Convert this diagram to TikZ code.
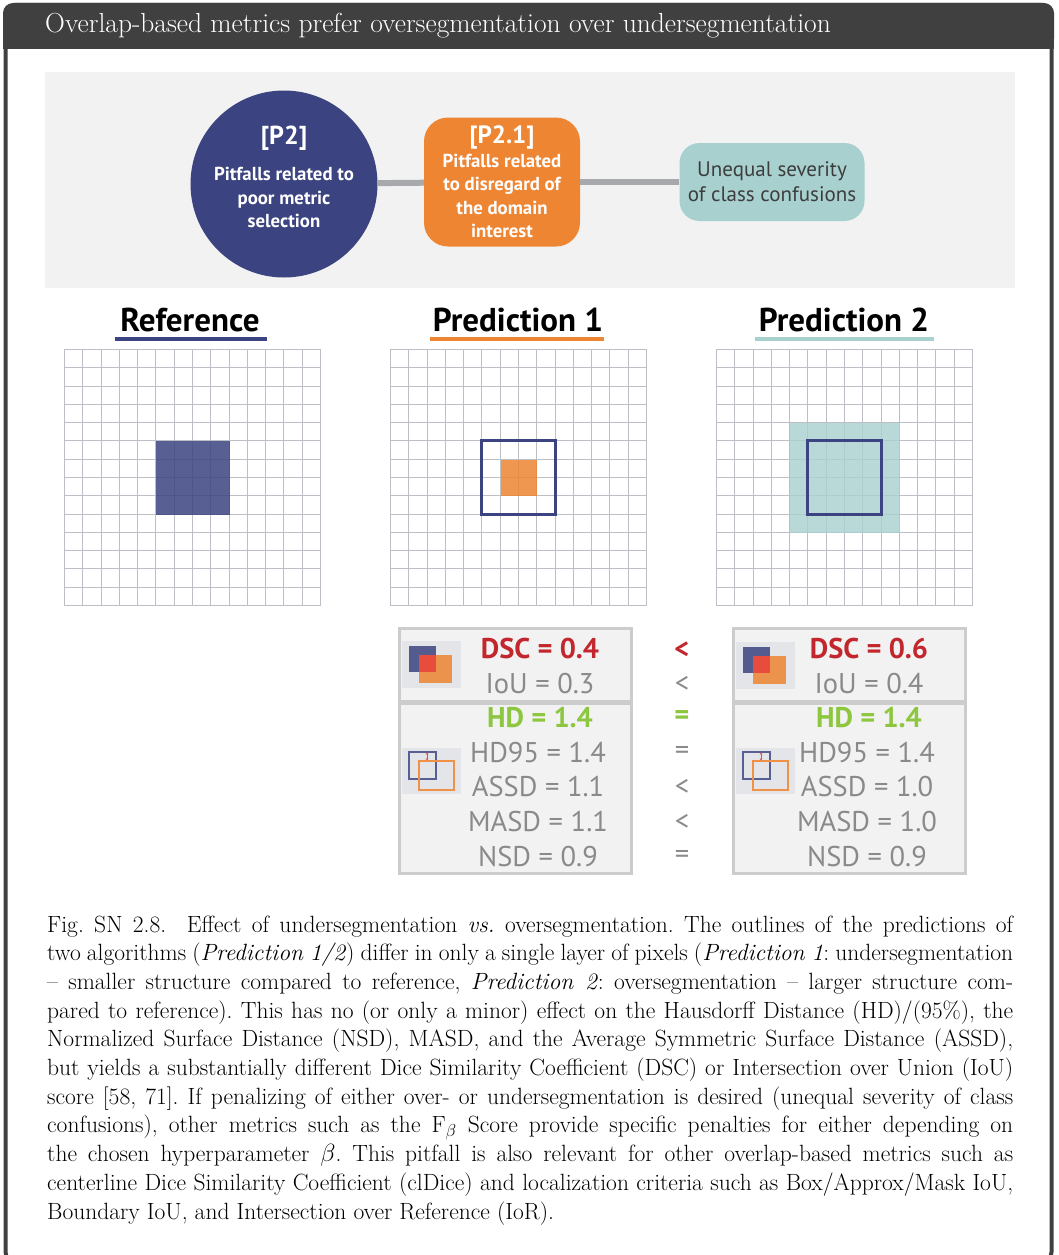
\documentclass[tikz,border=0pt]{standalone}
\usepackage{fontspec}
\newfontfamily\dsans{PT Sans}
\usetikzlibrary{arrows.meta}

\definecolor{hdrdark}{RGB}{64,64,64}
\definecolor{navy}{RGB}{59,67,128}
\definecolor{orng}{RGB}{237,133,51}
\definecolor{tealc}{RGB}{168,208,207}
\definecolor{panelbg}{RGB}{242,242,242}
\definecolor{connc}{RGB}{167,169,172}
\definecolor{gridln}{RGB}{190,190,198}
\definecolor{dscred}{RGB}{193,39,45}
\definecolor{hdgreen}{RGB}{141,198,63}
\definecolor{mgray}{RGB}{138,138,140}
\definecolor{boxline}{RGB}{204,204,204}
\definecolor{iconbg}{RGB}{228,229,232}
\definecolor{ovred}{RGB}{232,76,61}
\definecolor{textdark}{RGB}{61,61,61}

% cell size of the pixel grids and a helper that snaps grid line #2 of a grid starting at #1
\newcommand{\cs}{18.2857}
\newcommand{\gp}[2]{round(#1+#2*\cs)+0.5}

\tikzset{
  gridline/.style={draw=gridln, line width=1.3pt},
  conn/.style={draw=connc, line width=6pt},
  boxtxt/.style={font=\dsans\fontsize{18.8}{23.5}\selectfont\bfseries, text=white, align=center, inner sep=0pt},
  title/.style={font=\dsans\fontsize{33}{36}\selectfont\bfseries, inner sep=0pt},
  metricbox/.style={draw=boxline, line width=3pt, fill=panelbg},
  mbold/.style={font=\dsans\fontsize{28.5}{30}\selectfont\bfseries, inner sep=0pt},
  mnorm/.style={font=\dsans\fontsize{28.5}{30}\selectfont, text=mgray, inner sep=0pt},
  capline/.style={anchor=base west, inner sep=0pt, font=\fontsize{23.5}{28.7}\selectfont\frenchspacing},
}

\begin{document}
\begin{tikzpicture}[x=1pt,y=-1pt]
\useasboundingbox (0,0) rectangle (1058,1255);

% frame with dark title bar
\fill[white] (5,5) rectangle (1052,1254);
\fill[hdrdark, rounded corners=10pt] (3,3) -- (1054,3) -- (1054,49) -- (3,49) -- cycle;
\fill[hdrdark] (3,25) rectangle (1054,49);
\draw[hdrdark, line width=4pt, rounded corners=10pt] (5.5,5) rectangle (1051.5,1262);
\node[anchor=base west, text=white, inner sep=0pt, font=\fontsize{27.5}{30}\selectfont] (hdr) at (45,33)
  {Overlap-based metrics prefer oversegmentation over undersegmentation};

% pitfall panel
\fill[panelbg] (45,72) rectangle (1015,288);
\node[circle, fill=navy, minimum size=187pt, inner sep=0pt] (p2) at (284,184) {};
\node[boxtxt] (p2txt) at (284,177)
  {{\fontsize{26}{30}\selectfont [P2]}\\[13pt]Pitfalls related to\\poor metric\\selection};
\node[fill=orng, rounded corners=24pt, minimum width=156pt, minimum height=129pt, inner sep=0pt,
      boxtxt] (p21) at (502,182)
  {{\fontsize{25}{27}\selectfont [P2.1]}\\Pitfalls related\\to disregard of\\the domain\\interest};
\node[fill=tealc, rounded corners=20pt, minimum width=185pt, minimum height=78pt, inner sep=0pt,
      align=center, text=textdark, font=\dsans\fontsize{21}{25}\selectfont] (sev) at (772,182)
  {Unequal severity\\of class confusions};
\draw[conn] (p2) -- (p21);
\draw[conn] (p21) -- (sev);

% column titles
\node[title] (reft) at (190,320) {Reference};
\node[title] (pr1t) at (518,320) {Prediction 1};
\node[title] (pr2t) at (844,320) {Prediction 2};
\draw[navy, line width=4pt] (115,339) -- (267,339);
\draw[orng, line width=4pt] (430,339) -- (604,339);
\draw[tealc, line width=4pt] (755,339) -- (934,339);

% pixel grids (14 x 14 cells)
\foreach \gx in {64,390,716}{
  \foreach \i in {0,...,14}{
    \draw[gridline] ({\gp{\gx}{\i}},349) -- ({\gp{\gx}{\i}},606);
    \draw[gridline] (\gx,{\gp{349}{\i}}) -- ({\gx+257},{\gp{349}{\i}});
  }
}
% reference structure
\fill[navy, opacity=0.85] ({\gp{64}{5}},{\gp{349}{5}}) rectangle ({\gp{64}{9}},{\gp{349}{9}});
% prediction 1: undersegmentation
\fill[orng, opacity=0.85] ({\gp{390}{6}},{\gp{349}{6}}) rectangle ({\gp{390}{8}},{\gp{349}{8}});
\draw[navy, line width=3.5pt] ({\gp{390}{5}},{\gp{349}{5}}) rectangle ({\gp{390}{9}},{\gp{349}{9}});
% prediction 2: oversegmentation
\fill[tealc, opacity=0.8] ({\gp{716}{4}},{\gp{349}{4}}) rectangle ({\gp{716}{10}},{\gp{349}{10}});
\draw[navy, line width=3.5pt] ({\gp{716}{5}},{\gp{349}{5}}) rectangle ({\gp{716}{9}},{\gp{349}{9}});

% metric tables
\foreach \bx in {399,733}{
  \draw[metricbox] (\bx,628) rectangle ({\bx+232},701);
  \draw[metricbox] (\bx,703) rectangle ({\bx+232},873);
}
% overlap icons
\foreach \ix/\iy in {402/641,736/642}{
  \fill[iconbg] (\ix,\iy) rectangle ++(59,47);
  \fill[navy, opacity=0.85] ({\ix+7},{\iy+5}) rectangle ++(27,26);
  \fill[orng, opacity=0.85] ({\ix+17},{\iy+14}) rectangle ++(33,28);
  \fill[ovred] ({\ix+17},{\iy+14}) rectangle ({\ix+34},{\iy+31});
}
% boundary distance icons
\foreach \ix/\iy in {402/748,736/748}{
  \fill[iconbg] (\ix,\iy) rectangle ++(59,46);
  \draw[navy!85, line width=1.6pt] ({\ix+7},{\iy+4}) rectangle ++(27,27);
  \draw[orng!90, line width=1.6pt] ({\ix+17},{\iy+13}) rectangle ++(35,29);
  \draw[ovred, line width=0.8pt, {Stealth[length=2.2pt,width=2.6pt]}-{Stealth[length=2.2pt,width=2.6pt]}]
    ({\ix+25},{\iy+4.5}) -- ({\ix+25},{\iy+12.5});
}

% metric values, prediction 1
\node[mbold, text=dscred] (dsc1) at (540,649) {DSC = 0.4};
\node[mnorm] (iou1) at (540,684) {IoU = 0.3};
\node[mbold, text=hdgreen] (hd1) at (540,718) {HD = 1.4};
\node[mnorm] (hdn1) at (538,753) {HD95 = 1.4};
\node[mnorm] (assd1) at (538,787) {ASSD = 1.1};
\node[mnorm] (masd1) at (538,822) {MASD = 1.1};
\node[mnorm] (nsd1) at (538,857) {NSD = 0.9};
% metric values, prediction 2
\node[mbold, text=dscred] (dsc2) at (869,649) {DSC = 0.6};
\node[mnorm] (iou2) at (869,684) {IoU = 0.4};
\node[mbold, text=hdgreen] (hd2) at (869,718) {HD = 1.4};
\node[mnorm] (hdn2) at (867,753) {HD95 = 1.4};
\node[mnorm] (assd2) at (867,787) {ASSD = 1.0};
\node[mnorm] (masd2) at (867,822) {MASD = 1.0};
\node[mnorm] (nsd2) at (867,857) {NSD = 0.9};
% comparisons
\node[mbold, text=dscred] (c1) at (682,650) {<};
\node[mnorm] (c2) at (682,684) {<};
\node[mbold, text=hdgreen] (c3) at (682,718) {=};
\node[mnorm] (c4) at (682,753) {=};
\node[mnorm] (c5) at (682,787) {<};
\node[mnorm] (c6) at (682,822) {<};
\node[mnorm] (c7) at (682,857) {=};

% caption
\node[capline] (cap1) at (47,932) {\makebox[966pt][s]{Fig. SN 2.8.\ \ Effect of undersegmentation \emph{vs.} oversegmentation. The outlines of the predictions of}};
\node[capline] (cap2) at (47,960.7) {\makebox[966pt][s]{two algorithms (\emph{Prediction 1/2}) differ in only a single layer of pixels (\emph{Prediction 1}: undersegmentation}};
\node[capline] (cap3) at (47,989.4) {\makebox[966pt][s]{-- smaller structure compared to reference, \emph{Prediction 2}: oversegmentation -- larger structure com-}};
\node[capline] (cap4) at (47,1018.1) {\makebox[966pt][s]{pared to reference). This has no (or only a minor) effect on the Hausdorff Distance (HD)/(95\%), the}};
\node[capline] (cap5) at (47,1046.8) {\makebox[966pt][s]{Normalized Surface Distance (NSD), MASD, and the Average Symmetric Surface Distance (ASSD),}};
\node[capline] (cap6) at (47,1075.5) {\makebox[966pt][s]{but yields a substantially different Dice Similarity Coefficient (DSC) or Intersection over Union (IoU)}};
\node[capline] (cap7) at (47,1104.2) {\makebox[966pt][s]{score [58, 71]. If penalizing of either over- or undersegmentation is desired (unequal severity of class}};
\node[capline] (cap8) at (47,1132.9) {\makebox[966pt][s]{confusions), other metrics such as the F$_\beta$ Score provide specific penalties for either depending on}};
\node[capline] (cap9) at (47,1161.6) {\makebox[966pt][s]{the chosen hyperparameter $\beta$. This pitfall is also relevant for other overlap-based metrics such as}};
\node[capline] (cap10) at (47,1190.3) {\makebox[966pt][s]{centerline Dice Similarity Coefficient (clDice) and localization criteria such as Box/Approx/Mask IoU,}};
\node[capline] (cap11) at (47,1219) {Boundary IoU, and Intersection over Reference (IoR).};
\end{tikzpicture}
\end{document}
